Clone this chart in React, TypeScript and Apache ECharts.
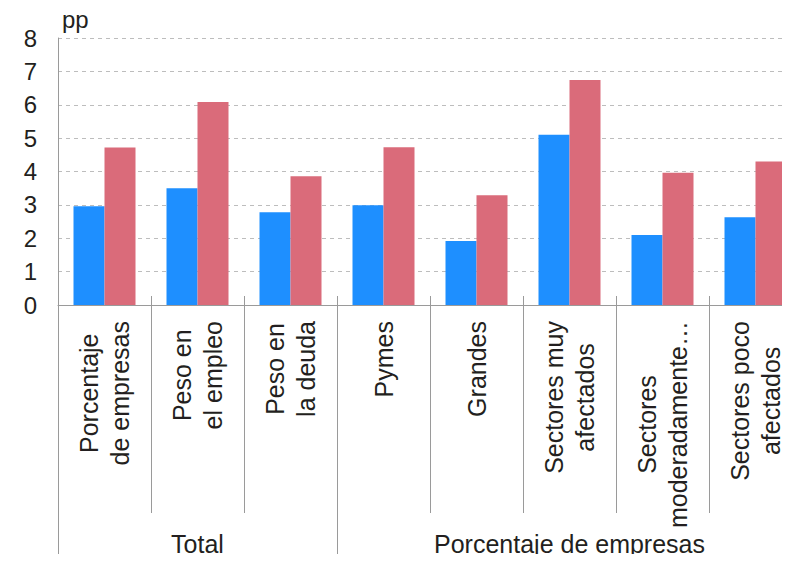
import React, { useEffect, useRef } from "react";
import * as echarts from "echarts";

const categories = [
  "Porcentaje\nde empresas",
  "Peso en\nel empleo",
  "Peso en\nla deuda",
  "Pymes",
  "Grandes",
  "Sectores muy\nafectados",
  "Sectores\nmoderadamente…",
  "Sectores poco\nafectados",
];
const seriesBlue = [2.96, 3.5, 2.78, 2.99, 1.92, 5.1, 2.1, 2.63];
const seriesRed = [4.72, 6.08, 3.86, 4.73, 3.29, 6.74, 3.96, 4.3];
const groupNames = ["Total", "Porcentaje de empresas"];
const groupCenters = [1.5, 5.5];
const groupBounds = [0, 3, 8];
const yTicks = [0, 1, 2, 3, 4, 5, 6, 7, 8];

const FONT = "'Liberation Sans', Arial, Helvetica, sans-serif";
const TXT = "#231f20";
const LINE = "#9a9a9a";

export default function App() {
  const ref = useRef<HTMLDivElement>(null);
  useEffect(() => {
    if (!ref.current) return;
    const chart = echarts.init(ref.current, null, { renderer: "svg" });
    const grid = { left: 58, top: 38, width: 744, height: 267, outerBoundsMode: "none", containLabel: false };
    chart.setOption({
      animation: false,
      textStyle: { fontFamily: FONT, color: TXT },
      grid,
      xAxis: [
        {
          type: "category",
          data: categories,
          position: "bottom",
          axisLine: { show: true, lineStyle: { color: LINE, width: 1 } },
          axisTick: { show: true, interval: 0, length: 208, lineStyle: { color: LINE } },
          axisLabel: {
            interval: 0,
            rotate: 90,
            margin: 16,
            fontSize: 25,
            lineHeight: 31,
            color: TXT,
            fontFamily: FONT,
            formatter: (v: string) =>
              v
                .split("\n")
                .map((s) => "{a|" + s + "}")
                .join("\n"),
            rich: { a: { align: "center", fontSize: 25, lineHeight: 31, color: TXT, fontFamily: FONT } },
          },
          splitLine: { show: false },
        },
        {
          type: "category",
          data: categories,
          position: "bottom",
          axisLine: { show: false },
          axisTick: { show: true, inside: true, interval: 0, length: 9, lineStyle: { color: LINE } },
          axisLabel: { show: false },
          splitLine: { show: false },
        },
        {
          type: "value",
          min: groupBounds[0],
          max: groupBounds[groupBounds.length - 1],
          position: "bottom",
          axisLine: { show: false },
          splitLine: { show: false },
          axisTick: { show: true, length: 257, customValues: groupBounds, lineStyle: { color: LINE } },
          axisLabel: {
            show: true,
            customValues: groupCenters,
            margin: 226,
            fontSize: 25,
            color: TXT,
            fontFamily: FONT,
            formatter: (v: number) => groupNames[groupCenters.indexOf(v)] ?? "",
          },
        },
      ],
      yAxis: {
        type: "value",
        min: yTicks[0],
        max: yTicks[yTicks.length - 1],
        interval: 1,
        name: "pp",
        nameLocation: "end",
        nameGap: 7,
        nameTextStyle: { align: "left", fontSize: 24, color: TXT, fontFamily: FONT, padding: [0, 0, 0, 4] },
        axisLine: { show: true, lineStyle: { color: LINE, width: 1 } },
        axisTick: { show: false },
        axisLabel: { fontSize: 24, color: TXT, margin: 21, fontFamily: FONT },
        splitLine: { show: true, lineStyle: { color: "#bdbdbd", type: [4, 4], width: 1 } },
      },
      series: [
        {
          type: "bar",
          name: "Serie 1",
          data: seriesBlue,
          barWidth: 31,
          barGap: "0%",
          itemStyle: { color: "#1e8fff" },
        },
        {
          type: "bar",
          name: "Serie 2",
          data: seriesRed,
          barWidth: 31,
          barGap: "0%",
          itemStyle: { color: "#da6b7a" },
        },
      ],
    });
    return () => chart.dispose();
  }, []);
  return <div ref={ref} style={{ width: 790, height: 562, margin: -8 }} />;
}
